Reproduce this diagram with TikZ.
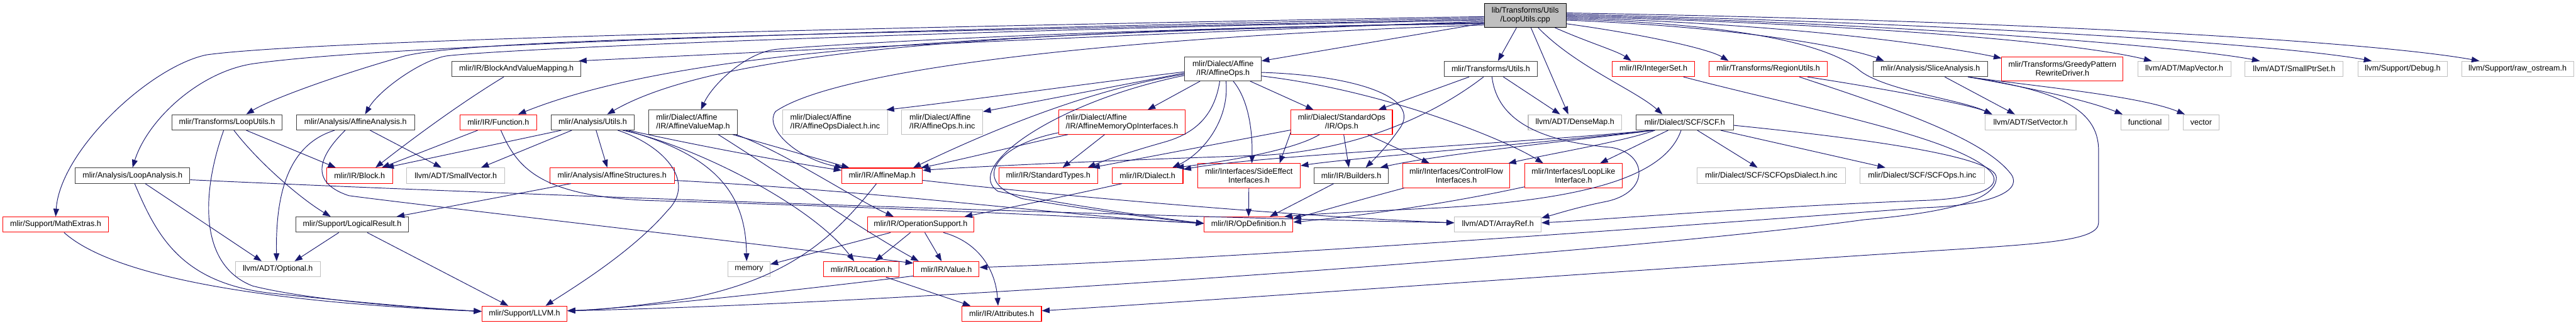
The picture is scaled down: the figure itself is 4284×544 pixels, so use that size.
\documentclass[tikz,border=0pt]{standalone}
\usepackage{fontspec}
\setmainfont{Liberation Sans}
\usetikzlibrary{arrows.meta,calc}
\definecolor{edgec}{HTML}{191970}
\definecolor{grayb}{HTML}{BFBFBF}
\definecolor{redb}{HTML}{FF0000}
\definecolor{blackb}{HTML}{404040}
\newcommand\dxfont{\fontsize{13.1}{14.5}\selectfont}
\begin{document}
\begin{tikzpicture}[x=1pt,y=-1pt,
  nb/.style={draw=blackb, line width=1.1pt, inner sep=0pt, font=\dxfont, align=center, minimum height=25.5pt},
  nr/.style={nb, draw=redb},
  ng/.style={nb, draw=grayb},
  nn/.style={minimum height=40pt},
  dep/.style={draw=edgec, line width=1pt, -{Triangle[length=13pt,width=9.5pt]}}]
\fill[white] (0,0) rectangle (4284,544);
\useasboundingbox (0,0) rectangle (4284,544);

% nodes
\node[nb, nn, minimum width=136pt, fill=grayb, draw=black] (root) at (2536.5,25.5) {lib/Transforms/Utils\\/LoopUtils.cpp};
\node[nb, minimum width=183pt] (tloopu) at (377.5,203.2) {mlir/Transforms/LoopUtils.h};
\node[nb, minimum width=196.3pt] (aanal) at (591.2,203.2) {mlir/Analysis/AffineAnalysis.h};
\node[nb, minimum width=214.4pt] (bvm) at (858.8,114.5) {mlir/IR/BlockAndValueMapping.h};
\node[nr, minimum width=127.4pt] (func) at (828.7,203.2) {mlir/IR/Function.h};
\node[nb, minimum width=138.5pt] (autils) at (985.7,203.2) {mlir/Analysis/Utils.h};
\node[nb, nn, minimum width=146.7pt, align=left] (avm) at (1152.6,203) {mlir/Dialect/Affine\\/IR/AffineValueMap.h};
\node[ng, nn, minimum width=175pt, align=left] (aodinc) at (1388.9,203) {mlir/Dialect/Affine\\/IR/AffineOpsDialect.h.inc};
\node[ng, nn, minimum width=134.5pt, align=left] (aopsinc) at (1567,203) {mlir/Dialect/Affine\\/IR/AffineOps.h.inc};
\node[nr, nn, minimum width=210.4pt, align=left] (memif) at (1865.8,203) {mlir/Dialect/Affine\\/IR/AffineMemoryOpInterfaces.h};
\node[nb, nn, minimum width=127pt] (aops) at (2033.9,114.3) {mlir/Dialect/Affine\\/IR/AffineOps.h};
\node[nr, nn, minimum width=168.6pt] (sops) at (2231.3,203) {mlir/Dialect/StandardOps\\/IR/Ops.h};
\node[nb, minimum width=155pt] (tutils) at (2479.2,114.5) {mlir/Transforms/Utils.h};
\node[ng, minimum width=155.2pt] (dense) at (2619.1,203.2) {llvm/ADT/DenseMap.h};
\node[nb, minimum width=161.8pt] (scf) at (2801.7,203.2) {mlir/Dialect/SCF/SCF.h};
\node[nr, minimum width=136.5pt] (iset) at (2749.8,114.5) {mlir/IR/IntegerSet.h};
\node[nr, minimum width=195.9pt] (rutils) at (2940.6,114.5) {mlir/Transforms/RegionUtils.h};
\node[nb, minimum width=190.4pt] (slice) at (3210.2,114.5) {mlir/Analysis/SliceAnalysis.h};
\node[nr, nn, minimum width=201.6pt] (greedy) at (3429.8,114.3) {mlir/Transforms/GreedyPattern\\RewriteDriver.h};
\node[ng, minimum width=155pt] (mapvec) at (3632.5,114.5) {llvm/ADT/MapVector.h};
\node[ng, minimum width=163.2pt] (smallptr) at (3815.3,114.5) {llvm/ADT/SmallPtrSet.h};
\node[ng, minimum width=148pt] (debug) at (3995.7,114.5) {llvm/Support/Debug.h};
\node[ng, minimum width=186pt] (rawos) at (4186.8,114.5) {llvm/Support/raw\_ostream.h};
\node[ng, minimum width=151.1pt] (setvec) at (3376.9,203.2) {llvm/ADT/SetVector.h};
\node[ng, minimum width=79.2pt] (functional) at (3567.1,203.2) {functional};
\node[ng, minimum width=59pt] (vector) at (3660.5,203.2) {vector};
\node[nr, minimum width=175.6pt] (mathx) at (92.6,373.1) {mlir/Support/MathExtras.h};
\node[nb, minimum width=190.8pt] (lanal) at (220.4,291.7) {mlir/Analysis/LoopAnalysis.h};
\node[ng, minimum width=140.9pt] (optional) at (462,447.2) {llvm/ADT/Optional.h};
\node[nr, minimum width=109.8pt] (block) at (597.9,291.7) {mlir/IR/Block.h};
\node[ng, minimum width=162.9pt] (smallvec) at (758,291.7) {llvm/ADT/SmallVector.h};
\node[nr, minimum width=206.8pt] (astruct) at (1017.9,291.7) {mlir/Analysis/AffineStructures.h};
\node[nb, minimum width=186.6pt] (logres) at (585.7,373.1) {mlir/Support/LogicalResult.h};
\node[nr, minimum width=141.5pt] (llvm) at (872.3,521.3) {mlir/Support/LLVM.h};
\node[nr, minimum width=134pt] (amap) at (1467,292) {mlir/IR/AffineMap.h};
\node[nr, minimum width=176.9pt] (opsupp) at (1531,373.1) {mlir/IR/OperationSupport.h};
\node[ng, minimum width=69.4pt] (memory) at (1245.7,447.2) {memory};
\node[nr, minimum width=125pt] (loc) at (1432.5,447.2) {mlir/IR/Location.h};
\node[nr, minimum width=109pt] (value) at (1573.9,447.2) {mlir/IR/Value.h};
\node[nr, minimum width=132.4pt] (attr) at (1665.8,521.3) {mlir/IR/Attributes.h};
\node[nr, minimum width=164.4pt] (stypes) at (1743.2,291.7) {mlir/IR/StandardTypes.h};
\node[nr, minimum width=117.8pt] (dialect) at (1908.4,291.7) {mlir/IR/Dialect.h};
\node[nr, nn, minimum width=171pt] (sidefx) at (2076.9,291.8) {mlir/Interfaces/SideEffect\\Interfaces.h};
\node[nr, minimum width=147.6pt] (opdef) at (2076.5,373.1) {mlir/IR/OpDefinition.h};
\node[nb, minimum width=122.9pt] (builders) at (2247.2,291.7) {mlir/IR/Builders.h};
\node[nr, nn, minimum width=178.1pt] (cflow) at (2421.8,291.8) {mlir/Interfaces/ControlFlow\\Interfaces.h};
\node[nr, nn, minimum width=161.4pt] (looplike) at (2616.7,291.8) {mlir/Interfaces/LoopLike\\Interface.h};
\node[ng, minimum width=144pt] (arrayref) at (2491,373.1) {llvm/ADT/ArrayRef.h};
\node[ng, minimum width=246.9pt] (scfdinc) at (2945.8,291.7) {mlir/Dialect/SCF/SCFOpsDialect.h.inc};
\node[ng, minimum width=207.2pt] (scfopsinc) at (3196.6,291.7) {mlir/Dialect/SCF/SCFOps.h.inc};

% root edges (left)
\draw[dep] ([yshift=-2pt]root.west) .. controls (1200,50) and (500,70) .. (344,91) .. controls (250,110) and (100,250) .. (mathx.north);
\draw[dep] ([yshift=-4pt]root.west) .. controls (1200,55) and (600,80) .. (420,106) .. controls (330,120) and (245,200) .. (lanal.north);
\draw[dep] ([yshift=-6pt]root.west) .. controls (1500,55) and (800,62) .. (673,93) .. controls (560,125) and (450,165) .. ([xshift=32pt]tloopu.north);
\draw[dep] ([yshift=-8pt]root.west) .. controls (1600,50) and (850,80) .. (742,93) .. controls (700,100) and (630,150) .. ([xshift=16pt]aanal.north);
\draw[dep] ([yshift=-10pt]root.west) .. controls (1800,60) and (1300,85) .. ([xshift=-4pt]bvm.north east);
\draw[dep] ([yshift=-12pt]root.west) .. controls (1700,55) and (1150,75) .. ([xshift=33pt]func.north);
\draw[dep] ([yshift=-13pt]root.west) .. controls (1700,50) and (1200,80) .. ([xshift=24pt]autils.north);
\draw[dep] ([yshift=-14pt]root.west) .. controls (1900,45) and (1400,72) .. (1290,82) .. controls (1240,88) and (1185,140) .. ([xshift=13pt]avm.north);
\draw[dep] ([yshift=-16pt]root.west) .. controls (1900,60) and (1400,110) .. (1290,185) .. controls (1270,210) and (1320,262) .. ([xshift=2pt]amap.north west);
\draw[dep] ([yshift=-13pt]root.west) -- ([yshift=13pt]aops.east);
% root edges (down / right)
\draw[dep] ([xshift=-14.5pt]root.south) -- ([xshift=12pt]tutils.north);
\draw[dep] ([xshift=9.5pt]root.south) -- ([xshift=-11pt]dense.north);
\draw[dep] ([xshift=21.5pt]root.south) .. controls (2620,110) and (2720,150) .. ([xshift=-37pt]scf.north);
\draw[dep] ([xshift=49.5pt]root.south) .. controls (2640,70) and (2690,85) .. ([xshift=-37pt]iset.north);
\draw[dep] ([yshift=-14pt]root.east) .. controls (2720,55) and (2840,80) .. ([xshift=-66pt]rutils.north);
\draw[dep] ([yshift=-8pt]root.east) .. controls (2900,45) and (3080,80) .. ([xshift=-77pt]slice.north);
\draw[dep] ([yshift=-6pt]root.east) .. controls (2900,40) and (3040,75) .. (3090,115) .. controls (3130,150) and (3260,165) .. ([xshift=-64pt]setvec.north);
\draw[dep] ([yshift=-4pt]root.east) .. controls (3000,40) and (3250,80) .. ([yshift=-3pt]greedy.north west);
\draw[dep] ([yshift=-2pt]root.east) .. controls (3100,40) and (3450,70) .. ([xshift=-54pt]mapvec.north);
\draw[dep] (root.east) .. controls (3200,40) and (3650,80) .. ([xshift=25pt]smallptr.north west);
\draw[dep] ([yshift=2pt]root.east) .. controls (3300,40) and (3800,75) .. ([xshift=23pt]debug.north west);
\draw[dep] ([yshift=4pt]root.east) .. controls (3400,35) and (3950,70) .. ([xshift=30pt]rawos.north west);

% Transforms/LoopUtils.h
\draw[dep] ([xshift=32pt]tloopu.south) -- ([xshift=16pt]block.north west);
\draw[dep] ([xshift=11.5pt]tloopu.south) .. controls (430,270) and (500,330) .. ([xshift=58pt]logres.north west);
\draw[dep] ([xshift=-5.5pt]tloopu.south) .. controls (335,320) and (330,440) .. (420,475) .. controls (520,500) and (700,512) .. ([yshift=4pt]llvm.west);
% LoopAnalysis
\draw[dep] ([xshift=21pt]lanal.south) -- ([xshift=44pt]optional.north west);
\draw[dep] ([xshift=3.5pt]lanal.south) .. controls (260,390) and (300,470) .. (450,487) .. controls (600,503) and (720,513) .. ([yshift=4pt]llvm.west);
\draw[dep] ([yshift=-7pt]lanal.east) .. controls (1000,330) and (2000,362) .. ([yshift=3pt]arrayref.west);
% MathExtras
\draw[dep] ([xshift=14pt]mathx.south) .. controls (200,470) and (500,505) .. ([yshift=4pt]llvm.west);
% AffineAnalysis
\draw[dep] ([xshift=64pt]aanal.south west) .. controls (480,240) and (458,320) .. ([xshift=-2pt]optional.north);
\draw[dep] ([xshift=81.6pt]aanal.south west) .. controls (540,250) and (505,300) .. (580,325) .. controls (650,335) and (1300,410) .. ([yshift=10pt]value.west);
\draw[dep] ([xshift=123pt]aanal.south west) -- ([xshift=58pt]smallvec.north west);
% BlockAndValueMapping
\draw[dep] ([xshift=-21pt]bvm.south) .. controls (760,175) and (680,235) .. ([xshift=26.6pt]block.north);
% Function
\draw[dep] ([xshift=30pt]func.south west) -- ([xshift=37pt]block.north);
\draw[dep] ([xshift=4.3pt]func.south) .. controls (860,280) and (900,325) .. (1075,333) .. controls (1500,345) and (1800,360) .. ([yshift=2pt]opdef.west);
% Analysis/Utils
\draw[dep] ([xshift=17.5pt]autils.south west) -- ([xshift=44pt]block.north);
\draw[dep] ([xshift=35pt]autils.south west) -- ([xshift=42pt]smallvec.north);
\draw[dep] ([xshift=5.6pt]autils.south) -- ([xshift=-8pt]astruct.north);
\draw[dep] ([xshift=41.7pt]autils.south) .. controls (1100,240) and (1160,300) .. (1110,350) .. controls (1050,420) and (950,480) .. ([xshift=35pt]llvm.north);
\draw[dep] ([xshift=-10pt]autils.south east) .. controls (1150,240) and (1300,268) .. ([yshift=9pt]amap.west);
\draw[dep] ([xshift=-15pt]autils.south east) .. controls (1200,260) and (1240,330) .. ([xshift=-4pt]memory.north);
\draw[dep] ([xshift=-20pt]autils.south east) .. controls (1150,240) and (1350,340) .. ([xshift=-12pt]loc.north);
% AffineStructures
\draw[dep] ([xshift=35.5pt]astruct.south west) -- ([xshift=-20pt]logres.north east);
\draw[dep] ([yshift=-8pt]astruct.east) .. controls (1500,320) and (1800,362) .. ([yshift=2pt]opdef.west);
% AffineValueMap
\draw[dep] ([xshift=-8pt]avm.south east) -- ([xshift=13pt]amap.north west);
\draw[dep] ([xshift=-3pt]avm.south east) .. controls (1300,250) and (1420,330) .. ([xshift=44pt]opsupp.north west);
\draw[dep] ([xshift=-32pt]avm.south east) .. controls (1300,290) and (1430,380) .. ([xshift=9pt]value.north west);
% AffineOps
\draw[dep] ([yshift=-5pt]aops.west) .. controls (1800,140) and (1600,168) .. ([xshift=-3pt]aodinc.north east);
\draw[dep] ([yshift=-7pt]aops.west) -- ([yshift=-3pt]aopsinc.north east);
\draw[dep] ([yshift=-9pt]aops.west) .. controls (1800,150) and (1620,230) .. ([xshift=-16pt]amap.north east);
\draw[dep] ([yshift=-11pt]aops.west) .. controls (1750,170) and (1600,280) .. (1660,318) .. controls (1800,345) and (1950,365) .. ([yshift=2pt]opdef.west);
\draw[dep] ([xshift=26pt]aops.south west) -- ([xshift=-63pt]memif.north east);
\draw[dep] ([xshift=-5.4pt]aops.south) .. controls (2020,190) and (1990,220) .. (1940,235) .. controls (1880,252) and (1840,265) .. ([xshift=-17pt]stypes.north east);
\draw[dep] ([xshift=5pt]aops.south) .. controls (2045,200) and (2000,255) .. ([xshift=-18pt]dialect.north east);
\draw[dep] ([xshift=17pt]aops.south) .. controls (2080,170) and (2083,230) .. ([xshift=5pt]sidefx.north);
\draw[dep] ([xshift=-19pt]aops.south east) -- ([xshift=38pt]sops.north west);
\draw[dep] ([yshift=-6pt]aops.east) .. controls (2250,125) and (2360,160) .. (2330,210) .. controls (2310,240) and (2285,265) .. ([xshift=24pt]builders.north);
\draw[dep] ([yshift=-12pt]aops.east) .. controls (2300,150) and (2500,230) .. ([xshift=31pt]looplike.north west);
% AffineMemoryOpInterfaces
\draw[dep] ([xshift=77pt]memif.south west) -- ([xshift=24pt]stypes.north);
\draw[dep] ([xshift=16pt]memif.south west) .. controls (1700,240) and (1600,265) .. ([xshift=-3pt]amap.north east);
\draw[dep] ([yshift=3pt]memif.south west) .. controls (1660,240) and (1610,300) .. (1700,330) .. controls (1850,355) and (1950,366) .. ([yshift=2pt]opdef.west);
% StandardOps
\draw[dep] ([xshift=3.4pt]sops.south) -- ([xshift=-4pt]builders.north);
\draw[dep] ([xshift=43pt]sops.south) -- ([xshift=45pt]cflow.north west);
\draw[dep] ([xshift=48pt]sops.south west) .. controls (2150,250) and (2040,268) .. ([xshift=-12pt]dialect.north east);
\draw[dep] ([yshift=-13pt]sops.west) -- ([xshift=-10pt]stypes.north east);
\draw[dep] ([yshift=-17pt]sops.west) -- ([xshift=-35pt]sidefx.north east);
% Transforms/Utils
\draw[dep] ([xshift=-36pt]tutils.south) -- ([xshift=-24pt]sops.north east);
\draw[dep] ([xshift=21pt]tutils.south) -- ([xshift=-24.6pt]dense.north);
\draw[dep] ([xshift=-12pt]tutils.south) .. controls (2380,195) and (2250,250) .. (2100,258) .. controls (1800,268) and (1600,278) .. ([yshift=9pt]amap.east);
\draw[dep] ([xshift=2pt]tutils.south) .. controls (2490,200) and (2560,235) .. (2680,245) .. controls (2740,255) and (2745,320) .. (2670,335) .. controls (2620,345) and (2590,355) .. ([yshift=11pt]arrayref.east);
% SCF
\draw[dep] ([xshift=21pt]scf.south) -- ([xshift=-23pt]scfdinc.north);
\draw[dep] ([xshift=-21.6pt]scf.south east) -- ([xshift=43pt]scfopsinc.north west);
\draw[dep] ([xshift=30pt]scf.south west) .. controls (2650,230) and (2400,255) .. ([xshift=-14pt]builders.north east);
\draw[dep] ([xshift=28pt]scf.south west) .. controls (2500,240) and (2100,258) .. ([yshift=-3pt]dialect.north east);
\draw[dep] ([xshift=26pt]scf.south west) .. controls (2600,235) and (2250,262) .. ([yshift=-4pt]sidefx.north east);
\draw[dep] ([xshift=32pt]scf.south west) .. controls (2700,235) and (2580,255) .. ([xshift=-3pt]cflow.north east);
\draw[dep] ([xshift=54pt]scf.south west) -- ([xshift=-37pt]looplike.north east);
\draw[dep] ([xshift=-6pt]scf.south) .. controls (2770,290) and (2650,330) .. (2400,345) .. controls (2250,352) and (2180,356) .. ([xshift=-15pt]opdef.north east);
\draw[dep] ([yshift=-5pt]scf.east) .. controls (3100,230) and (3320,260) .. (3320,295) .. controls (3320,330) and (3250,352) .. (3100,365) .. controls (2700,420) and (1500,505) .. ([yshift=5pt]llvm.east);
% IntegerSet
\draw[dep] ([xshift=-19pt]iset.south east) .. controls (3000,180) and (3240,225) .. (3305,280) .. controls (3340,310) and (3290,330) .. (3200,333) .. controls (2900,345) and (2650,366) .. ([yshift=3pt]arrayref.east);
% RegionUtils
\draw[dep] ([xshift=-33pt]rutils.south east) .. controls (3150,150) and (3280,175) .. ([xshift=-64pt]setvec.north);
\draw[dep] ([xshift=-46.6pt]rutils.south east) .. controls (3150,180) and (3300,230) .. (3345,290) .. controls (3365,320) and (3300,342) .. (3200,345) .. controls (2600,390) and (2000,432) .. ([yshift=3pt]value.east);
% SliceAnalysis
\draw[dep] ([xshift=24pt]slice.south) -- ([xshift=-26pt]setvec.north);
\draw[dep] ([xshift=-33pt]slice.south east) .. controls (3400,150) and (3480,170) .. ([xshift=3pt]functional.north west);
\draw[dep] ([xshift=-33pt]slice.south east) .. controls (3400,145) and (3560,160) .. ([xshift=3pt]vector.north west);
\draw[dep] ([xshift=-33pt]slice.south east) .. controls (3420,150) and (3490,180) .. (3490,250) -- (3490,370) .. controls (3490,400) and (3400,405) .. (3210,417) .. controls (2700,450) and (2000,500) .. ([yshift=5pt]attr.east);
% interfaces, builders, dialect
\draw[dep] ([xshift=3pt]cflow.south west) .. controls (2250,335) and (2200,350) .. ([yshift=10pt]opdef.east);
\draw[dep] ([yshift=2pt]looplike.south west) .. controls (2400,340) and (2250,360) .. ([yshift=4pt]opdef.east);
\draw[dep] (sidefx.south) -- (opdef.north);
\draw[dep] ([xshift=33pt]builders.south west) -- ([xshift=-39pt]opdef.north east);
\draw[dep] ([xshift=17pt]dialect.south west) .. controls (1800,320) and (1680,345) .. ([xshift=-16pt]opsupp.north east);
% AffineMap
\draw[dep] ([xshift=-9.6pt]amap.south) .. controls (1390,390) and (1320,460) .. (1150,495) .. controls (1050,510) and (990,515) .. ([yshift=5pt]llvm.east);
\draw[dep] ([yshift=-7.6pt]amap.east) .. controls (1800,330) and (2200,362) .. ([yshift=3pt]arrayref.west);
% OperationSupport
\draw[dep] ([xshift=39pt]opsupp.south west) -- ([yshift=8pt]memory.east);
\draw[dep] ([xshift=-17pt]opsupp.south) -- ([xshift=23pt]loc.north);
\draw[dep] ([xshift=7pt]opsupp.south) -- ([xshift=-8pt]value.north);
\draw[dep] ([xshift=38pt]opsupp.south) .. controls (1620,400) and (1655,440) .. ([xshift=-6pt]attr.north);
% Location, Value
\draw[dep] ([xshift=-22pt]loc.south east) -- ([xshift=15pt]attr.north west);
\draw[dep] ([yshift=2pt]value.south west) .. controls (1300,485) and (1050,512) .. ([yshift=5pt]llvm.east);
% LogicalResult
\draw[dep] ([xshift=71.6pt]logres.south west) -- ([xshift=-43pt]optional.north east);
\draw[dep] ([xshift=25pt]logres.south) -- ([xshift=-27pt]llvm.north);
\end{tikzpicture}
\end{document}
